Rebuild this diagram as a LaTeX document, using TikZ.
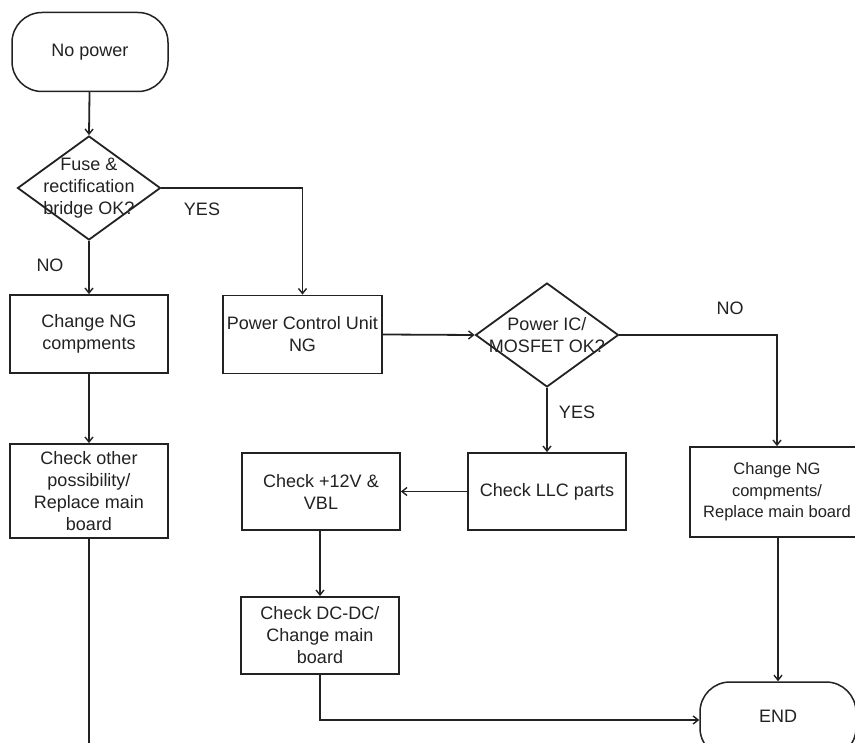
\documentclass[tikz,border=0pt]{standalone}
\usepackage{fontspec}
\setmainfont{Liberation Sans}
\usetikzlibrary{shapes.geometric,arrows.meta}
\definecolor{ink}{HTML}{222222}
\begin{document}
\begin{tikzpicture}[x=1pt,y=-1pt,
  every node/.style={font=\fontsize{18}{22}\selectfont, text=ink, align=center},
  boxnode/.style={draw=ink, line width=1.8pt, inner sep=0pt, minimum width=158pt},
  termnode/.style={draw=ink, line width=1.5pt, rounded corners=30pt, inner sep=0pt, minimum width=156pt},
  dianode/.style={draw=ink, line width=1.8pt, diamond, inner sep=0pt, minimum width=143pt, minimum height=104pt},
  conn/.style={draw=ink, line width=1.8pt},
  arr/.style={conn, -{Straight Barb[length=5pt,width=8pt,line width=1.4pt]}},
  lbl/.style={font=\fontsize{18}{22}\selectfont}
]
\useasboundingbox (0,0) rectangle (855,743);
\fill[white] (0,0) rectangle (855,743);

% terminals
\node[termnode, minimum height=79pt] (start) at (90,52) {No power};
\node[termnode, minimum height=76pt] (endn) at (778,720) {\raisebox{7pt}{END}};

% decisions
\node[dianode] (d1) at (89,188) {};
\node at (d1) {Fuse \&\\rectification\\bridge OK?};
\node[dianode] (d2) at (547,335) {};
\node at (d2) {Power IC/\\MOSFET OK?};

% boxes
\node[boxnode, minimum height=78pt] (chng) at (89,334) {Change NG\\compments};
\node[boxnode, minimum height=94pt] (other) at (89,491) {Check other\\possibility/\\Replace main\\board};
\node[boxnode, minimum height=78pt, minimum width=159pt] (pcu) at (302.5,334.5) {Power Control Unit\\NG};
\node[boxnode, minimum height=77pt] (llc) at (547,491.5) {Check LLC parts};
\node[boxnode, minimum height=77pt] (v12) at (321,491.5) {Check +12V \&\\VBL};
\node[boxnode, minimum height=77pt] (dcdc) at (320,635.5) {Check DC-DC/\\Change main\\board};
\node[boxnode, minimum height=90pt, minimum width=174pt, font=\fontsize{16.5}{21.5}\selectfont] (rep) at (777,492) {Change NG\\compments/\\Replace main board};

\coordinate (leftend) at (89,750);

% connectors
\draw[arr] (start) -- (d1.north);
\draw[arr] (d1.south) -- (chng.north);
\draw[arr] (d1.east) -| (pcu.north);
\draw[arr] (chng) -- (other);
\draw[conn] (other.south) -- (leftend);
\draw[arr] (pcu.east) -- (d2.west);
\draw[arr] (d2.south) -- (llc.north);
\draw[arr] (d2.east) -| (rep.north);
\draw[arr] (llc.west) -- (v12.east);
\draw[arr] (v12.south -| dcdc.north) -- (dcdc.north);
\draw[arr] (dcdc.south) |- (endn.west);
\draw[arr] (rep.south -| endn.north) -- (endn.north);

% labels
\node[lbl] at (202,209) {YES};
\node[lbl] at (50,265) {NO};
\node[lbl] at (577,412) {YES};
\node[lbl] at (730,308) {NO};
\end{tikzpicture}
\end{document}
